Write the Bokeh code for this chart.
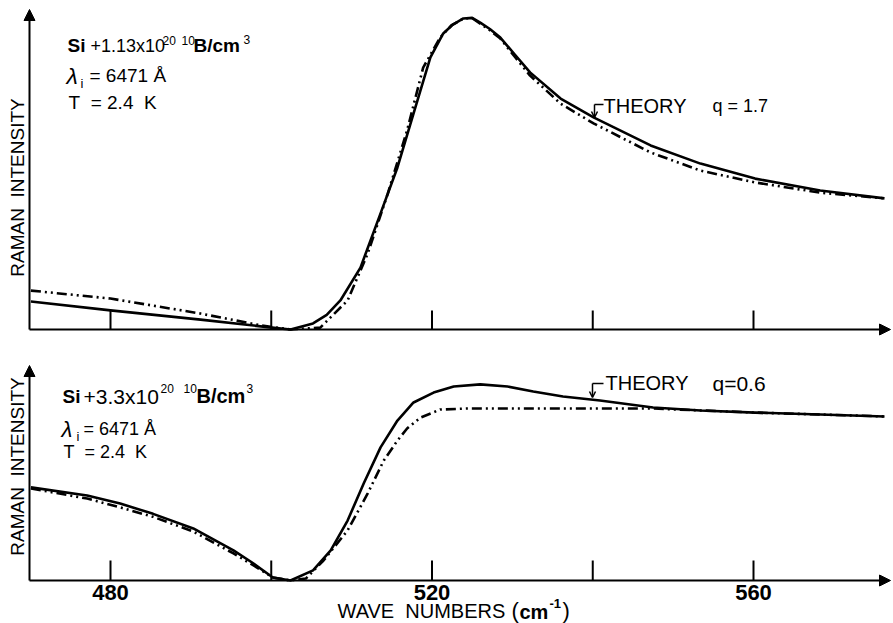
import math
from bokeh.plotting import figure
from bokeh.models import Range1d, Label, Arrow, NormalHead, OpenHead
from bokeh.core.properties import value
from bokeh.embed import file_html
from bokeh.resources import INLINE

# ---------------- data ----------------
# upper panel: Si + 1.13x10^20 B/cm^3, q = 1.7
top_solid_x = [470.1, 480.0, 491.2, 500.1, 502.4, 505.2, 506.9, 508.6, 511.1, 513.6, 515.7,
               517.7, 519.8, 521.4, 522.6, 523.9, 525.0, 526.0, 527.2, 528.5, 530.3, 532.2,
               536.0, 540.1, 547.2, 553.4, 560.2, 568.3, 576.3]
top_solid_y = [8.8, 6.0, 3.1, 0.6, 0.0, 1.9, 4.6, 9.1, 19.4, 36.4, 50.8,
               67.7, 85.3, 92.8, 95.6, 97.5, 97.7, 96.2, 94.2, 91.5, 86.2, 80.6,
               72.4, 66.5, 57.7, 52.0, 47.3, 43.6, 41.1]
top_dash_x = [470.1, 480.0, 491.2, 498.7, 502.4, 506.1, 509.5, 512.0, 514.5, 516.9,
              518.9, 521.0, 522.4, 523.9, 525.0, 526.0, 527.2, 528.5, 530.3, 532.2,
              536.0, 540.1, 547.2, 553.4, 560.2, 568.3, 576.3]
top_dash_y = [12.2, 9.7, 5.0, 1.3, 0.0, 0.6, 9.1, 23.8, 42.6, 62.4,
              82.1, 91.5, 95.3, 97.5, 97.6, 95.9, 93.8, 91.2, 85.5, 79.6,
              70.8, 64.6, 55.5, 49.8, 46.1, 42.9, 41.1]

# lower panel: Si + 3.3x10^20 B/cm^3, q = 0.6
bot_solid_x = [470.1, 477.1, 481.2, 485.3, 490.3, 495.3, 497.8, 500.2, 502.4, 505.2,
               507.4, 509.5, 511.5, 513.6, 515.7, 517.7, 520.2, 522.7, 526.0, 529.4,
               532.6, 536.3, 540.9, 547.5, 553.4, 560.2, 568.3, 576.3]
bot_solid_y = [43.3, 39.5, 35.8, 31.0, 24.2, 14.0, 7.9, 1.4, 0.0, 4.7,
               14.0, 27.9, 45.1, 61.9, 74.4, 82.8, 87.4, 90.2, 91.2, 90.2,
               87.9, 85.6, 83.7, 80.5, 79.1, 78.1, 77.2, 76.3]
bot_dash_x = [470.1, 477.1, 481.2, 485.3, 490.3, 495.3, 497.8, 500.2, 502.4, 504.3,
              506.5, 509.5, 512.0, 514.0, 515.7, 516.9, 518.6, 521.0, 524.4, 530.1,
              538.5, 547.5, 553.4, 560.2, 568.3, 576.3]
bot_dash_y = [42.8, 38.1, 34.0, 29.6, 22.8, 12.6, 7.0, 1.4, 0.0, 0.9,
              9.3, 23.3, 40.5, 55.8, 65.1, 70.7, 75.8, 79.5, 80.0, 80.0,
              80.0, 80.0, 79.1, 78.1, 77.2, 76.3]

tick_values = [480, 500, 520, 540, 560]
tick_labels = ["480", "", "520", "", "560"]

# ---------------- geometry / style ----------------
FONT = "Liberation Sans"
NB = "\u00a0"
W, H = 893, 623
PX_PER_X = 8.0375
X_START = 480 - 110 / PX_PER_X
X_END = X_START + W / PX_PER_X
BOT_ZERO, BOT_PX = 580.0, 2.15       # reference px of lower baseline, px per unit
TOP_ZERO, TOP_PX = 329.0, 3.19       # reference px of upper baseline, px per unit

bot_start = -(H - BOT_ZERO) / BOT_PX
bottom_range = Range1d(bot_start, bot_start + H / BOT_PX)
top_start = -(H - TOP_ZERO) / TOP_PX
top_range = Range1d(top_start, top_start + H / TOP_PX)


def X(px):
    return X_START + px / PX_PER_X


def Y(py, panel):
    if panel == "top":
        return (TOP_ZERO - py) / TOP_PX
    return (BOT_ZERO - py) / BOT_PX


def RN(panel):
    return "top" if panel == "top" else "default"


p = figure(width=W, height=H, x_range=Range1d(X_START, X_END), y_range=bottom_range,
           output_backend="svg", toolbar_location=None,
           min_border_left=0, min_border_right=0, min_border_top=0, min_border_bottom=0)
p.extra_y_ranges = {"top": top_range}
p.outline_line_color = None
p.grid.visible = False
p.axis.visible = False
p.background_fill_color = "white"
p.border_fill_color = "white"

LW = 2.6
DASH = "10 4 2 4 2 4"
p.line(top_solid_x, top_solid_y, y_range_name="top", line_color="black", line_width=LW,
       line_join="round")
p.line(top_dash_x, top_dash_y, y_range_name="top", line_color="black", line_width=LW,
       line_dash=DASH, line_join="round")
p.line(bot_solid_x, bot_solid_y, line_color="black", line_width=LW, line_join="round")
p.line(bot_dash_x, bot_dash_y, line_color="black", line_width=LW, line_dash=DASH,
       line_join="round")

# tick marks (pointing up into each panel)
n = len(tick_values)
p.segment(x0=tick_values, y0=[0] * n, x1=tick_values, y1=[19 / TOP_PX] * n,
          y_range_name="top", line_color="black", line_width=2)
p.segment(x0=tick_values, y0=[0] * n, x1=tick_values, y1=[20 / BOT_PX] * n,
          line_color="black", line_width=2)

# tick labels of the lower axis
p.text(x=tick_values, y=[Y(592, "bot")] * n, text=tick_labels,
       text_font=value(FONT), text_font_size="22px", text_font_style="bold",
       text_align="center", text_baseline="middle", text_color="black")

# axes with arrows
for panel, ytop in (("top", Y(9, "top")), ("bot", Y(365, "bot"))):
    p.add_layout(Arrow(x_start=X(29), y_start=0, x_end=X(890), y_end=0, y_range_name=RN(panel),
                       line_width=2, line_color="black",
                       end=NormalHead(size=11, fill_color="black", line_color="black")))
    p.add_layout(Arrow(x_start=X(29), y_start=0, x_end=X(29), y_end=ytop,
                       y_range_name=RN(panel), line_width=2, line_color="black",
                       end=NormalHead(size=11, fill_color="black", line_color="black")))


def txt(s, px, py, size, panel, style="normal", align="left", angle=0.0):
    """px: left edge, py: vertical centre of the capitals (reference pixels)."""
    p.add_layout(Label(x=X(px), y=Y(py, panel), y_range_name=RN(panel), text=s,
                       text_font=FONT, text_font_size=f"{size}px", text_font_style=style,
                       text_align=align, text_baseline="middle", angle=angle,
                       text_color="black"))


# y axis titles
txt(f"RAMAN{NB} INTENSITY", 17, 187, 19, "top", align="center", angle=math.pi / 2)
txt(f"RAMAN{NB} INTENSITY", 17, 466, 19, "bot", align="center", angle=math.pi / 2)

# x axis title
txt(f"WAVE{NB} NUMBERS", 337, 610, 20, "bot")
txt("(", 511, 610, 22, "bot")
txt("cm", 519, 611, 20, "bot", style="bold")
txt("-1", 549, 603, 13, "bot", style="bold")
txt(")", 562, 610, 22, "bot")

# upper panel annotation
txt("Si", 67, 45, 19, "top", style="bold")
txt("+1.13x10", 90, 45, 18, "top")
txt("20", 162, 40, 12, "top")
txt("10", 181, 40, 12, "top")
txt("B/cm", 193, 45, 19, "top", style="bold")
txt("3", 243, 39, 12, "top")
txt("\u03bb", 66, 75, 23, "top", style="italic")
txt("i", 80, 83, 13, "top")
txt("= 6471 \u00c5", 89, 75, 19, "top")
txt(f"T{NB} = 2.4{NB} K", 68, 101.5, 19, "top")

# lower panel annotation
txt("Si", 62, 395.5, 19, "bot", style="bold")
txt("+3.3x10", 83, 395.5, 21, "bot")
txt("20", 160, 388, 12, "bot")
txt("10", 183, 388, 12, "bot")
txt("B/cm", 196, 395.5, 20, "bot", style="bold")
txt("3", 246, 388, 12, "bot")
txt("\u03bb", 61, 428.5, 22, "bot", style="italic")
txt("i", 76, 436, 13, "bot")
txt("= 6471 \u00c5", 83, 428.5, 18, "bot")
txt(f"T{NB} = 2.4{NB} K", 63, 451.5, 18, "bot")

# THEORY markers
txt("THEORY", 603, 105, 20, "top")
txt("q = 1.7", 712, 105, 18, "top")
txt("THEORY", 605, 382.5, 20, "bot")
txt("q=0.6", 712, 382.5, 21, "bot")

for panel, (hx0, hx1, hy, vy1) in (("top", (603, 594, 104, 117)), ("bot", (603, 592, 383, 397))):
    p.add_layout(Arrow(x_start=X(hx0), y_start=Y(hy, panel), x_end=X(hx1), y_end=Y(hy, panel),
                       y_range_name=RN(panel), line_width=1.5, line_color="black", end=None))
    p.add_layout(Arrow(x_start=X(hx1), y_start=Y(hy, panel), x_end=X(hx1), y_end=Y(vy1, panel),
                       y_range_name=RN(panel), line_width=1.5, line_color="black",
                       end=OpenHead(size=6, line_width=1.5, line_color="black")))

open("out.html", "w").write(file_html(p, INLINE))
